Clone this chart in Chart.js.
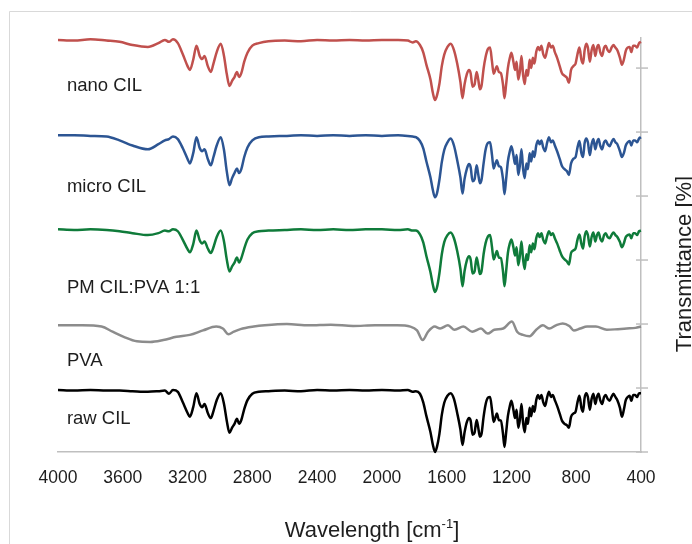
<!DOCTYPE html>
<html>
<head>
<meta charset="utf-8">
<title>FTIR spectra</title>
<script src="https://cdn.jsdelivr.net/npm/chart.js@4.4.1/dist/chart.umd.min.js"></script>
<style>
  html, body { margin: 0; padding: 0; background: #fff; overflow: hidden; }
  canvas { display: block; }
</style>
</head>
<body>
<canvas id="ftir-chart" width="692" height="544"></canvas>
<script>
// wavenumber grid shared by the cilostazol spectra (cm-1, high to low)
const wavenumbers = [
  4000, 3900, 3800, 3700, 3620, 3540, 3445, 3380, 3340, 3315,
  3290, 3260, 3230, 3200, 3186, 3165, 3145, 3125, 3110, 3095,
  3075, 3056, 3040, 3020, 2995, 2975, 2958, 2941, 2925, 2910,
  2895, 2882, 2868, 2850, 2830, 2800, 2760, 2700, 2600, 2500,
  2400, 2300, 2200, 2100, 2000, 1900, 1840, 1810, 1790, 1765,
  1745, 1725, 1700, 1685, 1672, 1660, 1645, 1630, 1615, 1595,
  1575, 1555, 1535, 1515, 1502, 1490, 1475, 1462, 1452, 1440,
  1428, 1415, 1405, 1395, 1385, 1372, 1360, 1345, 1332, 1320,
  1310, 1300, 1290, 1278, 1265, 1252, 1243, 1233, 1222, 1210,
  1200, 1188, 1178, 1168, 1158, 1148, 1138, 1128, 1118, 1108,
  1098, 1088, 1078, 1068, 1058, 1047, 1036, 1026, 1015, 1004,
  992, 980, 968, 956, 945, 932, 918, 902, 888, 872,
  858, 845, 832, 818, 804, 792, 780, 768, 758, 748,
  738, 728, 716, 705, 694, 682, 672, 662, 652, 640,
  628, 618, 606, 594, 582, 570, 558, 546, 530, 518,
  506, 494, 482, 470, 460, 448, 436, 424, 412, 400
];

// offset transmittance, one tick = 10
const nanoCIL = [
  64.4, 64.3, 64.5, 64.3, 64.1, 63.6, 63.3, 63.9, 64.4, 64.1,
  64.5, 63.9, 62.2, 60.3, 59.7, 61.3, 63.5, 61.9, 61.4, 61.9,
  60.3, 59.4, 60.7, 62.5, 63.8, 61.9, 59.1, 57.2, 58.0, 58.6,
  59.4, 58.6, 59.2, 61.0, 62.4, 63.5, 63.9, 64.2, 64.3, 64.2,
  64.4, 64.3, 64.4, 64.3, 64.4, 64.4, 64.3, 64.0, 64.2, 63.6,
  62.5, 60.5, 58.2, 56.1, 55.0, 55.7, 57.5, 60.3, 62.1, 63.3,
  63.8, 62.8, 60.7, 57.8, 55.3, 57.4, 59.1, 59.7, 59.2, 57.1,
  57.4, 59.4, 58.2, 56.7, 57.2, 59.9, 61.7, 63.0, 63.2, 61.0,
  59.1, 59.7, 60.3, 59.4, 59.2, 57.4, 55.3, 57.4, 60.0, 61.6,
  62.4, 61.0, 59.7, 61.0, 58.2, 59.4, 61.9, 58.9, 57.5, 59.7,
  58.8, 61.3, 60.0, 61.6, 60.7, 62.5, 63.3, 62.8, 63.5, 62.2,
  61.6, 62.8, 63.9, 63.2, 63.5, 62.5, 61.6, 60.3, 59.2, 58.8,
  58.5, 57.7, 59.7, 60.3, 60.7, 62.2, 63.2, 61.3, 60.7, 62.8,
  63.8, 63.2, 61.0, 62.8, 63.6, 61.9, 63.2, 63.6, 62.5, 61.9,
  63.2, 63.5, 62.8, 62.5, 63.2, 63.6, 63.2, 62.8, 61.6, 60.5,
  61.3, 62.7, 63.2, 63.3, 62.5, 63.5, 63.5, 63.2, 63.9, 64.1
];

const microCIL = [
  49.5, 49.5, 49.4, 49.3, 48.7, 47.9, 47.3, 48.1, 48.7, 48.9,
  49.3, 48.9, 47.5, 45.8, 45.1, 46.7, 49.2, 47.5, 47.0, 47.3,
  45.8, 44.8, 46.1, 47.9, 49.2, 47.2, 43.9, 41.7, 42.8, 43.6,
  44.3, 43.6, 44.2, 46.1, 47.6, 48.7, 49.2, 49.3, 49.4, 49.5,
  49.4, 49.5, 49.4, 49.5, 49.4, 49.5, 49.4, 49.3, 49.2, 48.6,
  47.5, 45.4, 42.9, 40.9, 39.8, 40.4, 42.5, 45.3, 47.2, 48.4,
  49.0, 47.9, 45.6, 42.9, 40.4, 42.6, 44.3, 45.0, 44.5, 42.3,
  42.6, 44.8, 43.4, 42.0, 42.5, 45.1, 47.2, 48.3, 48.4, 46.4,
  44.3, 45.0, 45.6, 44.7, 44.5, 42.6, 40.3, 42.6, 45.4, 47.0,
  47.8, 46.4, 45.0, 46.4, 43.3, 44.8, 47.3, 44.2, 42.8, 45.1,
  44.2, 46.7, 45.4, 47.0, 46.1, 47.9, 48.7, 48.1, 48.7, 47.6,
  47.0, 48.3, 49.2, 48.4, 48.7, 47.9, 47.0, 45.8, 44.7, 44.2,
  43.9, 43.3, 45.1, 45.8, 46.1, 47.6, 48.6, 46.7, 46.1, 48.3,
  49.0, 48.4, 46.4, 48.1, 48.9, 47.3, 48.4, 48.9, 47.9, 47.3,
  48.4, 48.7, 48.1, 47.8, 48.4, 48.9, 48.4, 48.1, 47.0, 46.1,
  46.7, 47.9, 48.4, 48.6, 47.9, 48.7, 48.7, 48.4, 49.0, 49.2
];

const physMix = [
  34.8, 34.7, 34.8, 34.7, 34.5, 34.2, 33.9, 34.2, 34.6, 34.5,
  34.8, 34.5, 33.2, 31.7, 31.2, 32.5, 34.6, 33.1, 32.6, 32.9,
  31.8, 31.1, 32.0, 33.6, 34.6, 32.9, 30.1, 28.2, 29.0, 29.6,
  30.4, 29.6, 30.3, 31.8, 33.2, 34.2, 34.5, 34.6, 34.7, 34.8,
  34.7, 34.8, 34.7, 34.8, 34.8, 34.7, 34.8, 34.6, 34.6, 34.0,
  32.8, 30.6, 28.1, 26.1, 25.0, 25.7, 27.9, 30.9, 32.8, 33.9,
  34.3, 33.4, 31.4, 28.6, 25.9, 28.2, 30.0, 30.6, 30.1, 27.9,
  28.2, 30.4, 29.2, 27.8, 28.2, 30.9, 32.6, 33.7, 33.9, 32.0,
  30.1, 30.7, 31.4, 30.4, 30.3, 28.2, 25.9, 28.2, 31.1, 32.6,
  33.2, 32.0, 30.7, 32.0, 29.2, 30.6, 32.9, 30.1, 28.6, 30.9,
  30.0, 32.3, 31.2, 32.6, 31.7, 33.4, 34.2, 33.6, 34.2, 33.2,
  32.6, 33.7, 34.5, 33.9, 34.2, 33.4, 32.6, 31.5, 30.6, 30.1,
  29.8, 29.3, 31.1, 31.5, 31.8, 33.2, 34.0, 32.5, 31.8, 33.7,
  34.5, 33.9, 32.1, 33.6, 34.3, 32.9, 33.9, 34.3, 33.4, 32.9,
  33.9, 34.2, 33.6, 33.4, 33.9, 34.3, 33.9, 33.6, 32.8, 32.0,
  32.6, 33.6, 33.9, 34.0, 33.4, 34.2, 34.2, 33.9, 34.5, 34.6
];

const rawCIL = [
  9.7, 9.6, 9.7, 9.6, 9.6, 9.5, 9.4, 9.5, 9.6, 9.1,
  9.7, 9.4, 7.8, 6.1, 5.5, 7.0, 9.2, 7.5, 7.0, 7.5,
  6.1, 5.3, 6.4, 8.1, 9.2, 7.5, 4.9, 3.0, 3.8, 4.4,
  5.2, 4.4, 5.0, 6.7, 8.1, 9.1, 9.4, 9.5, 9.6, 9.5,
  9.7, 9.6, 9.7, 9.6, 9.7, 9.6, 9.7, 9.4, 9.5, 9.1,
  7.8, 5.6, 3.1, 1.1, 0.0, 0.8, 2.8, 5.8, 7.7, 8.8,
  9.2, 8.3, 6.1, 3.5, 1.1, 3.0, 4.7, 5.3, 4.9, 2.7,
  3.0, 5.0, 3.8, 2.4, 2.8, 5.5, 7.4, 8.5, 8.6, 6.6,
  4.7, 5.3, 6.0, 5.0, 4.9, 2.8, 0.8, 3.0, 5.6, 7.2,
  8.0, 6.6, 5.3, 6.6, 3.8, 5.0, 7.5, 4.5, 3.1, 5.3,
  4.4, 6.9, 5.6, 7.2, 6.3, 8.1, 8.9, 8.3, 8.9, 7.8,
  7.2, 8.5, 9.4, 8.6, 8.9, 8.1, 7.2, 6.0, 4.9, 4.4,
  4.2, 3.8, 5.5, 6.0, 6.3, 7.8, 8.8, 6.9, 6.3, 8.5,
  9.2, 8.6, 6.6, 8.3, 9.1, 7.5, 8.6, 9.1, 8.1, 7.5,
  8.6, 8.9, 8.3, 8.0, 8.6, 9.1, 8.6, 8.1, 6.9, 5.5,
  6.6, 8.1, 8.6, 8.8, 8.0, 8.9, 8.9, 8.6, 9.2, 9.2
];

// PVA has its own, coarser grid
const pvaWavenumbers = [
  4000, 3850, 3731, 3663, 3594, 3513, 3431, 3350, 3268, 3186,
  3105, 3023, 2982, 2947, 2914, 2873, 2791, 2723, 2587, 2451,
  2315, 2178, 2042, 1905, 1824, 1783, 1748, 1715, 1674, 1640,
  1592, 1551, 1497, 1442, 1388, 1347, 1306, 1251, 1197, 1165,
  1129, 1088, 1047, 1006, 966, 925, 883, 843, 815, 775,
  733, 679, 611, 543, 488, 434, 400
];
const pva = [
  19.8, 19.8, 19.6, 18.8, 18.0, 17.3, 17.2, 17.5, 18.0, 18.3,
  19.0, 19.6, 19.3, 18.4, 18.8, 19.2, 19.6, 19.8, 20.0, 19.8,
  19.9, 19.7, 19.8, 19.8, 19.6, 19.0, 17.5, 18.8, 19.6, 19.3,
  19.8, 19.1, 19.6, 18.8, 19.3, 18.5, 19.1, 19.3, 20.4, 18.8,
  18.3, 18.1, 19.1, 19.8, 19.3, 19.8, 20.1, 19.7, 19.0, 19.3,
  19.6, 19.6, 19.1, 19.2, 19.3, 19.4, 19.6
];

const seriesNames = ['nano CIL', 'micro CIL', 'PM CIL:PVA 1:1', 'PVA', 'raw CIL'];
const seriesColors = ['#c0504d', '#2c5593', '#0f7b3a', '#8c8c8c', '#000000'];
const xTicks = [4000, 3600, 3200, 2800, 2400, 2000, 1600, 1200, 800, 400];

// where the sample names sit, in chart units
const labelWavenumber = 3945;
const labelLevels = [56.4, 40.7, 24.8, 13.4, 4.3];

const axisColor = '#bfbfbf';
const textColor = '#1e1e1e';
const fontFamily = '"Liberation Sans", Arial, sans-serif';

const toPoints = (xs, ys) => xs.map((w, i) => ({ x: w, y: ys[i] }));

const spectra = [
  toPoints(wavenumbers, nanoCIL),
  toPoints(wavenumbers, microCIL),
  toPoints(wavenumbers, physMix),
  toPoints(pvaWavenumbers, pva),
  toPoints(wavenumbers, rawCIL)
];

const decorations = {
  id: 'decorations',
  beforeDraw(chart) {
    const ctx = chart.ctx;
    ctx.save();
    ctx.fillStyle = '#ffffff';
    ctx.fillRect(0, 0, chart.width, chart.height);
    // outer frame of the chart
    ctx.strokeStyle = '#d9d9d9';
    ctx.lineWidth = 1;
    ctx.beginPath();
    ctx.moveTo(9.5, chart.height);
    ctx.lineTo(9.5, 11.5);
    ctx.lineTo(chart.width, 11.5);
    ctx.stroke();
    ctx.restore();
  },
  afterDraw(chart) {
    const { ctx, scales: { x, y } } = chart;
    ctx.save();

    // cross tick marks on the right axis
    ctx.strokeStyle = axisColor;
    ctx.lineWidth = 1.5;
    y.ticks.forEach(t => {
      const py = y.getPixelForValue(t.value);
      ctx.beginPath();
      ctx.moveTo(x.right - 5, py);
      ctx.lineTo(x.right + 7, py);
      ctx.stroke();
    });

    // sample names
    ctx.fillStyle = textColor;
    ctx.font = '18.5px ' + fontFamily;
    ctx.textAlign = 'left';
    ctx.textBaseline = 'alphabetic';
    seriesNames.forEach((name, i) => {
      ctx.fillText(name, x.getPixelForValue(labelWavenumber), y.getPixelForValue(labelLevels[i]));
    });

    // x axis title with superscript
    const main = '22px ' + fontFamily;
    const small = '13px ' + fontFamily;
    ctx.font = main;
    const w1 = ctx.measureText('Wavelength [cm').width;
    const w3 = ctx.measureText(']').width;
    ctx.font = small;
    const w2 = ctx.measureText('-1').width;
    let tx = 372 - (w1 + w2 + w3) / 2;
    const ty = 537;
    ctx.font = main;
    ctx.fillText('Wavelength [cm', tx, ty);
    tx += w1;
    ctx.font = small;
    ctx.fillText('-1', tx, ty - 9);
    tx += w2;
    ctx.font = main;
    ctx.fillText(']', tx, ty);

    // y axis title, reading upwards
    ctx.translate(691, 264);
    ctx.rotate(-Math.PI / 2);
    ctx.textAlign = 'center';
    ctx.fillText('Transmittance [%]', 0, 0);
    ctx.restore();
  }
};

new Chart(document.getElementById('ftir-chart'), {
  type: 'line',
  data: {
    datasets: spectra.map((pts, i) => ({
      label: seriesNames[i],
      data: pts,
      borderColor: seriesColors[i],
      borderWidth: 2.5,
      pointRadius: 0,
      cubicInterpolationMode: 'monotone',
      fill: false,
      clip: 4
    }))
  },
  options: {
    responsive: false,
    animation: false,
    layout: { padding: { top: 38, left: 58, right: 0, bottom: 0 } },
    plugins: {
      legend: { display: false },
      tooltip: { enabled: false }
    },
    scales: {
      x: {
        type: 'linear',
        reverse: true,
        min: 400,
        max: 4000,
        afterBuildTicks: scale => { scale.ticks = xTicks.map(v => ({ value: v })); },
        afterFit: scale => { scale.height = 92; },
        grid: { display: false },
        border: { display: true, color: axisColor, width: 1.5 },
        ticks: {
          color: textColor,
          padding: 8,
          maxRotation: 0,
          autoSkip: false,
          font: { size: 17.5, family: fontFamily },
          callback: v => String(v)
        }
      },
      y: {
        type: 'linear',
        position: 'right',
        min: 0,
        max: 64.7,
        afterFit: scale => { scale.width = 51; },
        grid: { display: false },
        border: { display: true, color: axisColor, width: 1.5 },
        ticks: { display: false, stepSize: 10, includeBounds: false }
      }
    }
  },
  plugins: [decorations]
});
</script>
</body>
</html>
